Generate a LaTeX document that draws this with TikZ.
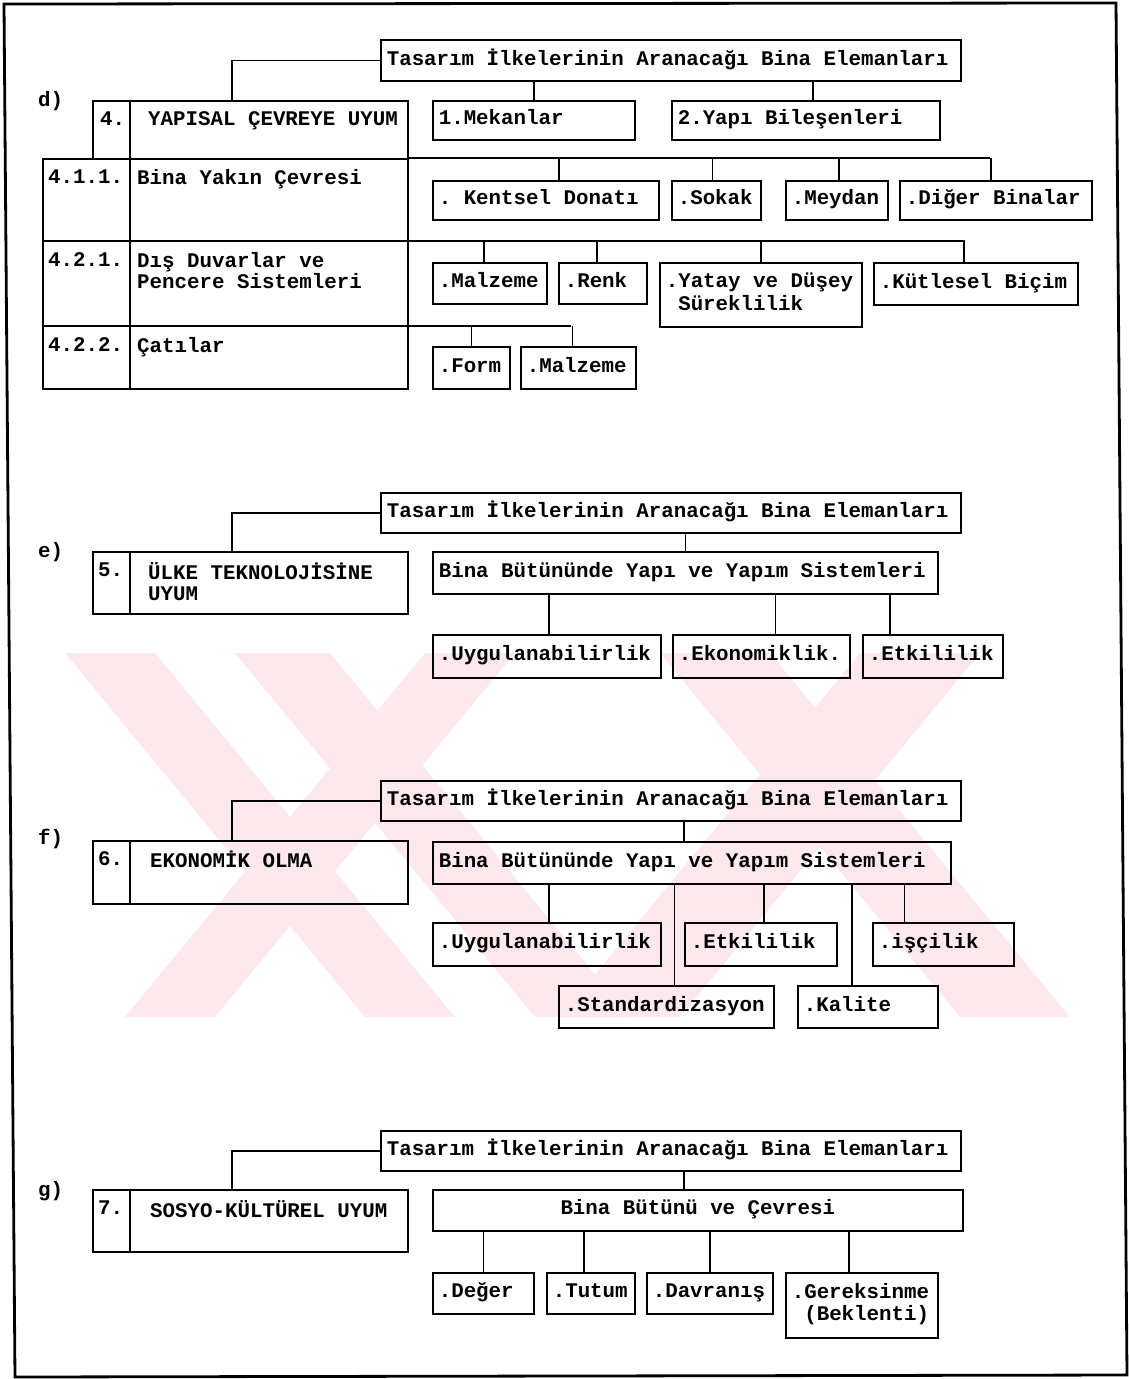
\documentclass[tikz,border=0pt]{standalone}
\usepackage{fontspec}
\newfontfamily\daktilo{Liberation Mono}
\newcommand\yazi{\daktilo\bfseries\fontsize{20.8pt}{21pt}\selectfont\frenchspacing}
\definecolor{filigran}{RGB}{253,233,237}

\tikzset{
  kutu/.style={draw, line width=1.6pt, anchor=north west, inner xsep=6pt, inner ysep=0pt,
    align=flush left, font=\yazi, execute at begin node=\strut, execute at end node=\strut},
  blok/.style={draw, line width=1.6pt, anchor=north west, inner sep=0pt},
  metin/.style={anchor=north west, inner sep=0pt, align=flush left, font=\yazi,
    execute at begin node=\strut},
  bag/.style={line width=1.6pt},
  cerceve/.style={line width=2.8pt}
}

\begin{document}
\begin{tikzpicture}[x=1pt,y=-1pt]
\useasboundingbox (0,0) rectangle (1129,1379);
% filigran
\fill[filigran] (65,653) -- (155,653) -- (455,1017) -- (365,1017) -- cycle;
\fill[filigran] (235,653) -- (330,653) -- (630,1017) -- (535,1017) -- cycle;
\fill[filigran] (425,653) -- (515,653) -- (215,1017) -- (125,1017) -- cycle;
\fill[filigran] (660,653) -- (770,653) -- (1070,1017) -- (960,1017) -- cycle;
\fill[filigran] (860,653) -- (980,653) -- (680,1017) -- (560,1017) -- cycle;
% cerceve
\draw[cerceve] (4,4) -- (1116,3) -- (1127,1375) -- (15,1377) -- cycle;

% d)
\node[metin] (d) at (38,91) {d)};
\node[kutu, text width=568pt, minimum height=41pt] (ust1) at (380,39) {Tasarım İlkelerinin Aranacağı Bina Elemanları};
\node[blok, minimum width=315pt, minimum height=58pt] (yapisal) at (92,100) {};
\node[blok, minimum width=365pt, minimum height=230pt] (tablo) at (42,158) {};
\node[kutu, text width=190pt, minimum height=39pt] (mekan) at (432,100) {1.Mekanlar};
\node[kutu, text width=256pt, minimum height=39pt] (bilesen) at (671,100) {2.Yapı Bileşenleri};
\node[metin] (no4) at (100,111) {4.};
\node[metin] (yapisalad) at (148,111) {YAPISAL ÇEVREYE UYUM};
\node[metin] (n411) at (48,169) {4.1.1.};
\node[metin] (t411) at (137,169) {Bina Yakın Çevresi};
\node[metin] (n421) at (48,252) {4.2.1.};
\node[metin] (t421) at (137,252) {Dış Duvarlar ve\\Pencere Sistemleri};
\node[metin] (n422) at (48,337) {4.2.2.};
\node[metin] (t422) at (137,337) {Çatılar};
\coordinate (k1) at (130,100);
\coordinate (k2) at (130,388);
\coordinate (s1) at (407,158);
\coordinate (s1e) at (990,158);
\coordinate (s2) at (42,241);
\coordinate (s2e) at (965,241);
\coordinate (s3) at (42,326);
\coordinate (s3e) at (571,326);
\draw[bag] (k1) -- (k2);
\draw[bag] (s1) -- (s1e);
\draw[bag] (s2) -- (s2e);
\draw[bag] (s3) -- (s3e);
\draw[bag] (ust1.west) -| ([xshift=140pt]yapisal.north west);
\draw[bag] (mekan.north) -- (mekan.north |- ust1.south);
\draw[bag] (bilesen.north) ++(7,0) -- ++(0,-20);

\node[kutu, text width=214pt, minimum height=39pt] (kentsel) at (432,180) {. Kentsel Donatı};
\node[kutu, text width=77pt, minimum height=39pt] (sokak) at (671,180) {.Sokak};
\node[kutu, text width=90pt, minimum height=39pt] (meydan) at (785,180) {.Meydan};
\node[kutu, text width=180pt, minimum height=39pt] (diger) at (899,180) {.Diğer Binalar};
\draw[bag] (kentsel.north) ++(13,0) -- ++(0,-22);
\draw[bag] (sokak.north) ++(-4,0) -- ++(0,-22);
\draw[bag] (meydan.north) ++(2,0) -- ++(0,-22);
\draw[bag] (diger.north) ++(-5,0) -- ++(0,-22);

\node[kutu, text width=102pt, minimum height=41pt] (malzeme1) at (432,262) {.Malzeme};
\node[kutu, text width=76pt, minimum height=41pt] (renk) at (558,262) {.Renk};
\node[kutu, text width=190pt, minimum height=64pt] (yatay) at (659,262) {.Yatay ve Düşey\\~Süreklilik};
\node[kutu, text width=192pt, minimum height=42pt] (kutlesel) at (873,262) {.Kütlesel Biçim};
\draw[bag] (malzeme1.north) ++(-6,0) -- ++(0,-21);
\draw[bag] (renk.north) ++(-6,0) -- ++(0,-21);
\draw[bag] (yatay.north) -- ++(0,-21);
\draw[bag] (kutlesel.north) ++(-12,0) -- ++(0,-21);

\node[kutu, text width=65pt, minimum height=42pt] (form) at (432,346) {.Form};
\node[kutu, text width=103pt, minimum height=42pt] (malzeme2) at (520,346) {.Malzeme};
\draw[bag] (form.north) -- ++(0,-20);
\draw[bag] (malzeme2.north) ++(-6,0) -- ++(0,-20);

% e)
\node[metin] (e) at (38,542) {e)};
\node[kutu, text width=568pt, minimum height=40pt] (ust2) at (380,492) {Tasarım İlkelerinin Aranacağı Bina Elemanları};
\node[blok, minimum width=315pt, minimum height=62pt] (ulke) at (92,551) {};
\coordinate (k3) at (130,551);
\coordinate (k4) at (130,613);
\draw[bag] (k3) -- (k4);
\node[metin] (no5) at (98,562) {5.};
\node[metin] (ulkead) at (148,562) {ÜLKE TEKNOLOJİSİNE\\UYUM};
\node[kutu, text width=493pt, minimum height=42pt] (bina2) at (432,551) {Bina Bütününde Yapı ve Yapım Sistemleri};
\draw[bag] (ust2.west) -| ([xshift=140pt]ulke.north west);
\draw[bag] (bina2.north) -- (bina2.north |- ust2.south);

\node[kutu, text width=216pt, minimum height=43pt] (uyg2) at (432,634) {.Uygulanabilirlik};
\node[kutu, text width=165pt, minimum height=43pt] (ekon2) at (672,634) {.Ekonomiklik.};
\node[kutu, text width=128pt, minimum height=43pt] (etk2) at (862,634) {.Etkililik};
\draw[bag] (uyg2.north) ++(2,0) -- ++(0,-41);
\draw[bag] (ekon2.north) ++(14,0) -- ++(0,-41);
\draw[bag] (etk2.north) ++(-43,0) -- ++(0,-41);

% f)
\node[metin] (f) at (38,829) {f)};
\node[kutu, text width=568pt, minimum height=40pt] (ust3) at (380,780) {Tasarım İlkelerinin Aranacağı Bina Elemanları};
\node[blok, minimum width=315pt, minimum height=63pt] (ekonomik) at (92,840) {};
\coordinate (k5) at (130,840);
\coordinate (k6) at (130,903);
\draw[bag] (k5) -- (k6);
\node[metin] (no6) at (98,851) {6.};
\node[metin] (ekonomikad) at (150,851) {EKONOMİK OLMA};
\node[kutu, text width=506pt, minimum height=42pt] (bina3) at (432,841) {Bina Bütününde Yapı ve Yapım Sistemleri};
\draw[bag] (ust3.west) -| ([xshift=140pt]ekonomik.north west);
\draw[bag] (bina3.north) ++(-8,0) -- ++(0,-21);

\node[kutu, text width=216pt, minimum height=43pt] (uyg3) at (432,922) {.Uygulanabilirlik};
\node[kutu, text width=140pt, minimum height=43pt] (etk3) at (684,922) {.Etkililik};
\node[kutu, text width=129pt, minimum height=43pt] (iscilik) at (872,922) {.işçilik};
\node[kutu, text width=203pt, minimum height=42pt] (stand) at (558,985) {.Standardizasyon};
\node[kutu, text width=128pt, minimum height=42pt] (kalite) at (797,985) {.Kalite};
\draw[bag] (uyg3.north) ++(2,0) -- ++(0,-39);
\draw[bag] (etk3.north) ++(3,0) -- ++(0,-39);
\draw[bag] (iscilik.north) ++(-39,0) -- ++(0,-39);
\draw[bag] (stand.north) ++(8,0) -- ++(0,-102);
\draw[bag] (kalite.north) ++(-16,0) -- ++(0,-102);

% g)
\node[metin] (g) at (38,1181) {g)};
\node[kutu, text width=568pt, minimum height=40pt] (ust4) at (380,1130) {Tasarım İlkelerinin Aranacağı Bina Elemanları};
\node[blok, minimum width=315pt, minimum height=62pt] (sosyo) at (92,1189) {};
\coordinate (k7) at (130,1189);
\coordinate (k8) at (130,1251);
\draw[bag] (k7) -- (k8);
\node[metin] (no7) at (98,1200) {7.};
\node[metin] (sosyoad) at (150,1200) {SOSYO-KÜLTÜREL UYUM};
\node[kutu, text width=518pt, minimum height=41pt, align=flush center] (cevre) at (432,1189) {Bina Bütünü ve Çevresi};
\draw[bag] (ust4.west) -| ([xshift=140pt]sosyo.north west);
\draw[bag] (cevre.north) ++(-14,0) -- ++(0,-19);

\node[kutu, text width=89pt, minimum height=41pt] (deger) at (432,1272) {.Değer};
\node[kutu, text width=76pt, minimum height=41pt] (tutum) at (546,1272) {.Tutum};
\node[kutu, text width=114pt, minimum height=41pt] (davranis) at (646,1272) {.Davranış};
\node[kutu, text width=140pt, minimum height=65pt] (gereksinme) at (785,1272) {.Gereksinme\\~(Beklenti)};
\draw[bag] (deger.north) -- ++(0,-42);
\draw[bag] (tutum.north) ++(-7,0) -- ++(0,-42);
\draw[bag] (davranis.north) -- ++(0,-42);
\draw[bag] (gereksinme.north) ++(-13,0) -- ++(0,-42);
\end{tikzpicture}
\end{document}
